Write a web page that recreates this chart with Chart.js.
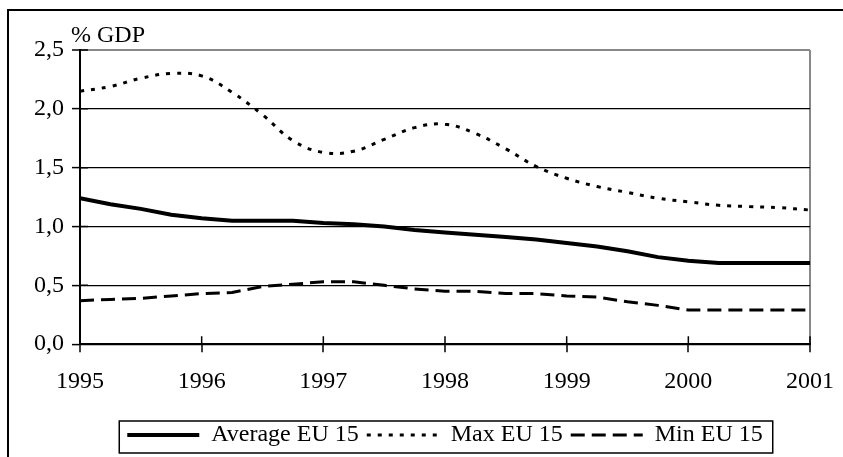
<!DOCTYPE html>
<html>
<head>
<meta charset="utf-8">
<script src="https://cdn.jsdelivr.net/npm/chart.js@4.4.1/dist/chart.umd.min.js"></script>
<style>
  html, body { margin: 0; padding: 0; background: #fff; width: 843px; height: 457px; overflow: hidden; }
  #frame { position: absolute; left: 7px; top: 9px; width: 1000px; height: 1000px; border: 2px solid #000; box-sizing: border-box; }
  #c { position: absolute; left: 0; top: 0; }
</style>
</head>
<body>
<div id="frame"></div>
<canvas id="c" width="843" height="457"></canvas>
<script>
// Quarterly periods 1995–2001
const periods = [1995, 1995.25, 1995.5, 1995.75, 1996, 1996.25, 1996.5, 1996.75,
                 1997, 1997.25, 1997.5, 1997.75, 1998, 1998.25, 1998.5, 1998.75,
                 1999, 1999.25, 1999.5, 1999.75, 2000, 2000.25, 2000.5, 2000.75, 2001];
const averageEU15 = [1.24, 1.19, 1.15, 1.10, 1.07, 1.05, 1.05, 1.05,
                     1.03, 1.02, 1.00, 0.97, 0.95, 0.93, 0.91, 0.89,
                     0.86, 0.83, 0.79, 0.74, 0.71, 0.69, 0.69, 0.69, 0.69];
const maxEU15 = [2.15, 2.19, 2.26, 2.30, 2.28, 2.14, 1.95, 1.73,
                 1.63, 1.64, 1.74, 1.84, 1.87, 1.79, 1.66, 1.51,
                 1.41, 1.34, 1.29, 1.24, 1.21, 1.18, 1.17, 1.16, 1.14];
const minEU15 = [0.37, 0.38, 0.39, 0.41, 0.43, 0.44, 0.49, 0.51,
                 0.53, 0.53, 0.50, 0.47, 0.45, 0.45, 0.43, 0.43,
                 0.41, 0.40, 0.36, 0.33, 0.29, 0.29, 0.29, 0.29, 0.29];
const yearTicks = [1995, 1996, 1997, 1998, 1999, 2000, 2001];
const valueTicks = [0, 0.5, 1, 1.5, 2, 2.5];
const seriesNames = ['Average EU 15', 'Max EU 15', 'Min EU 15'];
const unitLabel = '% GDP';

const FONT = '"Liberation Serif", "Times New Roman", serif';
const toPts = arr => arr.map((v, i) => ({ x: periods[i], y: v }));

const extras = {
  id: 'extras',
  afterDraw(chart) {
    const ctx = chart.ctx;
    const a = chart.chartArea;
    const xs = chart.scales.x, ys = chart.scales.y;
    ctx.save();
    // inner halves of crossing tick marks
    ctx.strokeStyle = '#000';
    ctx.lineWidth = 1.5;
    ctx.beginPath();
    yearTicks.forEach(t => {
      const px = xs.getPixelForValue(t);
      ctx.moveTo(px, a.bottom);
      ctx.lineTo(px, a.bottom - 8);
    });
    valueTicks.forEach(t => {
      const py = ys.getPixelForValue(t);
      ctx.moveTo(a.left, py);
      ctx.lineTo(a.left + 8, py);
    });
    ctx.stroke();
    // unit label
    ctx.fillStyle = '#000';
    ctx.font = '24px ' + FONT;
    ctx.textBaseline = 'alphabetic';
    ctx.textAlign = 'left';
    ctx.fillText(unitLabel, a.left - 9, 42);
    // legend frame
    const lg = chart.legend;
    if (lg && lg.legendHitBoxes && lg.legendHitBoxes.length) {
      const hb = lg.legendHitBoxes;
      const l = hb[0].left - 8;
      const r = hb[hb.length - 1].left + hb[hb.length - 1].width + 10;
      const t = hb[0].top - 2;
      const b = hb[0].top + hb[0].height + 6;
      ctx.lineWidth = 1.5;
      ctx.strokeRect(l, t, r - l, b - t);
    }
    ctx.restore();
  }
};

new Chart(document.getElementById('c'), {
  type: 'line',
  data: {
    datasets: [
      { label: seriesNames[0], data: toPts(averageEU15), borderColor: '#000', backgroundColor: '#000',
        borderWidth: 4, pointRadius: 0, tension: 0, fill: false },
      { label: seriesNames[1], data: toPts(maxEU15), borderColor: '#000', backgroundColor: '#000',
        borderWidth: 3, borderDash: [4, 7], pointRadius: 0, tension: 0.4, fill: false },
      { label: seriesNames[2], data: toPts(minEU15), borderColor: '#000', backgroundColor: '#000',
        borderWidth: 3, borderDash: [14, 7], pointRadius: 0, tension: 0, fill: false }
    ]
  },
  options: {
    responsive: false,
    animation: false,
    events: [],
    layout: { padding: { top: 50, left: 0, right: 33, bottom: 0 } },
    scales: {
      x: {
        type: 'linear', min: 1995, max: 2001,
        afterBuildTicks: s => { s.ticks = yearTicks.map(v => ({ value: v })); },
        afterFit: s => { s.height += 4; s.paddingRight = 20; },
        ticks: { callback: v => String(v), color: '#000', font: { family: FONT, size: 24 }, padding: 15, maxRotation: 0 },
        grid: {
          drawOnChartArea: true,
          color: c => (c.tick && c.tick.value === 2001) ? '#888' : 'rgba(0,0,0,0)',
          lineWidth: 2,
          tickColor: '#000', tickLength: 8, tickWidth: 1.5
        },
        border: { display: true, color: '#000', width: 2 }
      },
      y: {
        min: 0, max: 2.5,
        afterBuildTicks: s => { s.ticks = valueTicks.map(v => ({ value: v })); },
        afterFit: s => { s.width = 80; },
        ticks: { callback: v => v.toFixed(1).replace('.', ','), color: '#000', font: { family: FONT, size: 24 }, padding: 8 },
        grid: {
          color: c => (c.tick && c.tick.value === 2.5) ? '#888' : '#000',
          lineWidth: c => (c.tick && c.tick.value === 2.5) ? 2 : 1.2,
          tickColor: '#000', tickLength: 8, tickWidth: 1.5
        },
        border: { display: true, color: '#000', width: 2 }
      }
    },
    plugins: {
      title: { display: false },
      tooltip: { enabled: false },
      legend: {
        position: 'bottom',
        fullSize: false,
        labels: {
          usePointStyle: true, pointStyle: 'line', pointStyleWidth: 72,
          boxWidth: 72, boxHeight: 24, padding: 8,
          color: '#000', font: { family: FONT, size: 24 },
          generateLabels: chart => Chart.defaults.plugins.legend.labels.generateLabels(chart).map((it, i) => {
            const ds = chart.data.datasets[i];
            return Object.assign({}, it, { lineWidth: ds.borderWidth, lineDash: ds.borderDash || [], strokeStyle: ds.borderColor });
          })
        }
      }
    }
  },
  plugins: [extras]
});
</script>
</body>
</html>
